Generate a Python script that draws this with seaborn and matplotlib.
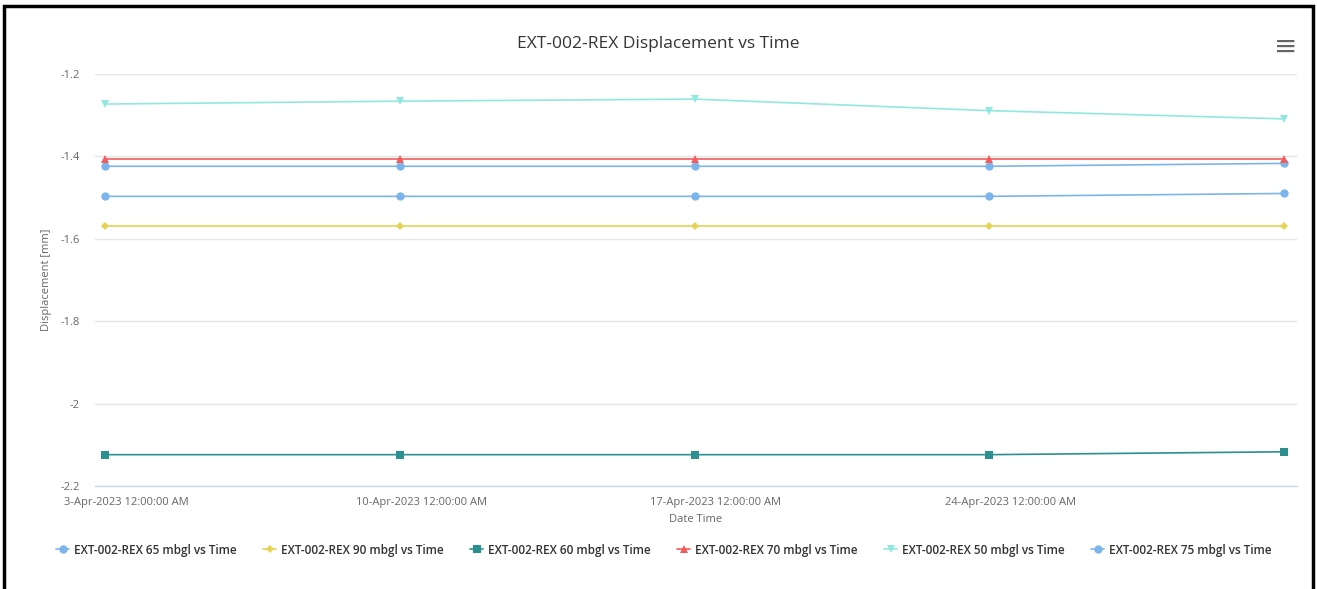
import pandas as pd
import numpy as np
import matplotlib
matplotlib.use("Agg")
import matplotlib.pyplot as plt
from matplotlib.lines import Line2D
from matplotlib.patches import Rectangle
import seaborn as sns

# Readings (weekly)
dates = ["2023-04-02 12:00", "2023-04-09 12:00", "2023-04-16 12:00",
         "2023-04-23 12:00", "2023-04-30 12:00"]
series_names = ["EXT-002-REX 65 mbgl vs Time", "EXT-002-REX 90 mbgl vs Time",
                "EXT-002-REX 60 mbgl vs Time", "EXT-002-REX 70 mbgl vs Time",
                "EXT-002-REX 50 mbgl vs Time", "EXT-002-REX 75 mbgl vs Time"]
disp_65 = [-1.424, -1.424, -1.424, -1.424, -1.417]
disp_90 = [-1.570, -1.570, -1.570, -1.570, -1.570]
disp_60 = [-2.124, -2.124, -2.124, -2.124, -2.117]
disp_70 = [-1.406, -1.406, -1.406, -1.406, -1.406]
disp_50 = [-1.273, -1.266, -1.261, -1.289, -1.309]
disp_75 = [-1.497, -1.497, -1.497, -1.497, -1.490]
tick_dates = ["2023-04-03", "2023-04-10", "2023-04-17", "2023-04-24"]
y_ticks = [-2.2, -2.0, -1.8, -1.6, -1.4, -1.2]

colors = ["#7cb5ec", "#e4d354", "#2b908f", "#f45b5b", "#91e8e1", "#7cb5ec"]
markers = ["o", "D", "s", "^", "v", "o"]
msizes = [6, 4.5, 5.5, 6, 6, 6]

frames = []
for name, vals in zip(series_names, [disp_65, disp_90, disp_60, disp_70, disp_50, disp_75]):
    frames.append(pd.DataFrame({"date": pd.to_datetime(dates), "disp": vals, "series": name}))
df = pd.concat(frames, ignore_index=True)

sns.set_style("white")
plt.rcParams["font.family"] = ["Open Sans", "DejaVu Sans"]

fig = plt.figure(figsize=(13.17, 5.89), dpi=100)
ax = fig.add_axes([0.0721, 0.1749, 0.9127, 0.6995])

for name, c, m, ms in zip(series_names, colors, markers, msizes):
    sub = df[df["series"] == name]
    sns.lineplot(data=sub, x="date", y="disp", ax=ax, color=c, marker=m,
                 markersize=ms, markeredgewidth=0, linewidth=1.2, legend=False)

ax.set_ylim(-2.2, -1.2)
ax.set_yticks(y_ticks)
ax.set_yticklabels([f"{v:g}" for v in y_ticks])
ax.set_xlim(pd.Timestamp("2023-04-02 06:00"), pd.Timestamp("2023-04-30 19:30"))
ax.set_xticks(pd.to_datetime(tick_dates))
ax.set_xticklabels([pd.Timestamp(d).strftime("%-d-%b-%Y") + " 12:00:00 AM" for d in tick_dates])

ax.grid(axis="y", color="#e6e6e6", linewidth=1)
ax.grid(axis="x", visible=False)
for s in ["top", "right", "left"]:
    ax.spines[s].set_visible(False)
ax.spines["bottom"].set_color("#ccd6eb")
ax.spines["bottom"].set_linewidth(1)
ax.tick_params(axis="x", length=10, width=1, color="#ccd6eb", labelsize=8,
               labelcolor="#666666", pad=-2)
ax.tick_params(axis="y", length=0, labelsize=8, labelcolor="#666666", pad=11)
ax.set_xlabel("Date Time", fontsize=8, color="#666666", labelpad=4)
ax.set_ylabel("Displacement [mm]", fontsize=8, color="#666666", labelpad=6)

fig.text(0.5, 0.925, "EXT-002-REX Displacement vs Time", ha="center", va="center",
         fontsize=12.5, color="#333333")
fig.text(0.976, 0.92, "\u2261", ha="center", va="center", fontsize=20,
         color="#666666", family="DejaVu Sans")

handles = [Line2D([0], [0], color=c, marker=m, markersize=ms, markeredgewidth=0, linewidth=1.2)
           for c, m, ms in zip(colors, markers, msizes)]
fig.legend(handles, series_names, loc="center", bbox_to_anchor=(0.504, 0.066), ncol=6,
           frameon=False, handlelength=1.1, handletextpad=0.4,
           columnspacing=2.25, labelcolor="#333333",
           prop={"weight": "semibold", "size": 8.5})

fig.patches.append(Rectangle((0.003, -0.01), 0.994, 1.0, transform=fig.transFigure,
                             fill=False, edgecolor="black", linewidth=2.5))

fig.savefig("out.png", dpi=100)
